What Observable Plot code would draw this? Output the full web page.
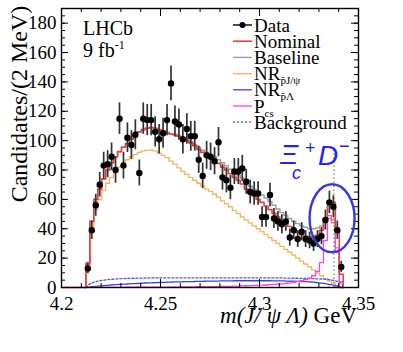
<!DOCTYPE html>
<html><head><meta charset="utf-8">
<script src="https://cdn.jsdelivr.net/npm/d3@7"></script>
<script src="https://cdn.jsdelivr.net/npm/@observablehq/plot@0.6"></script>
<style>
body{margin:0;background:#fff;}
svg{display:block;overflow:hidden}
svg text:not(.sans){font-family:"Liberation Serif","Times New Roman",serif;}
svg text.sans{font-family:"Liberation Sans",Arial,sans-serif;}
</style>
</head><body><div id="chart"></div>
<script>
// 2 MeV bins of m(J/psi Lambda) starting at threshold
const binStart = 4.2123;
const binWidth = 0.002;
const dataCounts = [13, 39, 56, 70, 83, 84, 89, 80, 115, 83,
  102, 97, 104, 78, 115, 114, 114, 106, 101, 105,
  114, 139, 113, 111, 101, 108, 103, 103, 87, 76,
  90, 89, 86, 99, 75, 73, 68, 79, 79, 81,
  72, 65, 64, 64, 48, 48, 63, 47, 45, 43,
  45, 34, 39, 33, 38, 33, 32, 30, 33, 35,
  46, 58, 55, 39, 14];
const nominal = [16, 45, 60, 67, 74, 80, 85, 89, 92.5, 95.5,
  98, 101, 104, 106, 107.5, 108.5, 109, 108.5, 107.5, 106.5,
  105.5, 104.5, 104, 103, 102, 100, 98.5, 96.5, 94, 92,
  90, 88.5, 86.5, 84.5, 82, 80, 77.5, 75, 73, 70.5,
  67, 65, 62.5, 60, 58, 55.5, 53, 50.5, 48, 45.5,
  43.5, 41.5, 39.5, 37.5, 36, 35, 34.5, 34.5, 35.5, 39,
  47, 58, 58, 40, 9];
const baseline = [17, 45, 60, 67, 74, 80, 85, 89, 92.5, 95.5,
  98, 101, 104, 106, 107.5, 108.5, 109, 108.5, 107.5, 106.5,
  105.5, 104.5, 104, 103, 102, 100.5, 99.5, 97.5, 95.5, 93.5,
  92, 90.5, 89, 87, 85, 83, 80.5, 78.5, 76.5, 74.5,
  71, 69, 67, 65, 63, 61, 58.5, 56, 53.5, 51,
  49, 47, 45, 43.5, 42, 41, 40, 40, 40.5, 42,
  45, 47, 44, 24, 4];
const nrPJpsi = [15, 40, 53, 60, 66, 71, 75, 79, 82, 85,
  87, 89, 90.5, 92, 93, 93.5, 93.5, 93, 91.5, 90,
  88.5, 86, 84, 81.5, 79, 77, 75, 73, 71, 69,
  67, 65.5, 63.5, 61.5, 59, 57, 55, 52.5, 50.5, 48,
  46, 44, 42, 40, 38, 36, 34, 32, 30, 28,
  26, 24, 22, 20, 18, 16, 14, 12, 10, 8,
  6, 4.5, 3, 1, 0];
const nrPLambda = [0.2, 0.5, 0.8, 1.0, 1.3, 1.5, 1.7, 1.9, 2.1, 2.3,
  2.4, 2.6, 2.7, 2.8, 3.0, 3.1, 3.2, 3.3, 3.4, 3.5,
  3.6, 3.7, 3.8, 3.8, 3.9, 4.0, 4.0, 4.1, 4.2, 4.2,
  4.3, 4.3, 4.4, 4.4, 4.5, 4.5, 4.5, 4.6, 4.6, 4.6,
  4.6, 4.6, 4.6, 4.6, 4.6, 4.6, 4.6, 4.5, 4.5, 4.5,
  4.4, 4.4, 4.3, 4.2, 4.1, 4.0, 3.8, 3.6, 3.3, 3.0,
  2.6, 2.1, 1.6, 1.0, 0.3];
const pcs = [0.1, 0.1, 0.1, 0.1, 0.1, 0.1, 0.1, 0.1, 0.1, 0.1,
  0.2, 0.2, 0.2, 0.2, 0.2, 0.2, 0.2, 0.2, 0.2, 0.2,
  0.3, 0.3, 0.3, 0.3, 0.4, 0.4, 0.4, 0.4, 0.5, 0.5,
  0.5, 0.6, 0.6, 0.7, 0.7, 0.8, 0.8, 0.9, 1.0, 1.1,
  1.2, 1.3, 1.4, 1.5, 1.6, 1.7, 1.9, 2.1, 2.3, 2.5,
  2.8, 3.1, 3.5, 4.0, 4.6, 5.3, 6.3, 8, 11, 17,
  32, 49, 46, 27, 0];
const background = [1.5, 3.0, 4.0, 4.6, 5.0, 5.3, 5.6, 5.8, 6.0, 6.1,
  6.2, 6.3, 6.3, 6.4, 6.4, 6.5, 6.5, 6.5, 6.5, 6.5,
  6.6, 6.6, 6.6, 6.6, 6.6, 6.6, 6.6, 6.6, 6.6, 6.6,
  6.6, 6.6, 6.6, 6.6, 6.6, 6.6, 6.6, 6.6, 6.6, 6.6,
  6.6, 6.6, 6.6, 6.6, 6.6, 6.5, 6.5, 6.5, 6.5, 6.5,
  6.4, 6.4, 6.3, 6.3, 6.2, 6.2, 6.1, 6.0, 5.9, 5.8,
  5.6, 5.3, 4.9, 4.2, 3.0];
const xTicks = [4.2, 4.25, 4.3, 4.35];
const xTickLabels = ["4.2", "4.25", "4.3", "4.35"];
const yTicks = [0, 20, 40, 60, 80, 100, 120, 140, 160, 180];
const xiDThreshold = 4.3376;   // Xi_c+ D- threshold
const xiDLineTop = 94;
const ellipseCenter = {x: 4.3369, y: 46.8};

const C = {red: "#e8403f", grey: "#9c9c9c", orange: "#f2b25a", blue: "#4040d8",
  magenta: "#ff3fe0", bg: "#4a5ad8", annot: "#2424ee"};

const W = 403, H = 352, mL = 61, mR = 45, mT = 8, mB = 65;
const iw = W - mL - mR, ih = H - mT - mB;
const serif = "Liberation Serif, Times New Roman, serif";
const sans = "Liberation Sans, Arial, sans-serif";

const nBins = dataCounts.length;
const center = i => binStart + (i + 0.5) * binWidth;
const binEnd = binStart + nBins * binWidth;

function stepData(vals, fromAxisStart) {
  const pts = [];
  if (fromAxisStart) pts.push({x: 4.2, y: 0});
  pts.push({x: binStart, y: 0});
  vals.forEach((v, i) => pts.push({x: binStart + i * binWidth, y: v}));
  pts.push({x: binEnd, y: vals[vals.length - 1]});
  pts.push({x: binEnd, y: 0});
  return pts;
}
function smoothData(vals) {
  const pts = [{x: binStart, y: 0}];
  vals.forEach((v, i) => pts.push({x: center(i), y: v}));
  pts.push({x: binEnd, y: 0});
  return pts;
}
const points = dataCounts.map((v, i) => ({x: center(i), y: v}));

const yMinor = d3.range(0, 191, 5);
const xMinor = d3.range(0, 16).map(k => +(4.2 + k * 0.01).toFixed(2));

const plot = Plot.plot({
  width: W, height: H,
  marginLeft: mL, marginRight: mR, marginTop: mT, marginBottom: mB,
  x: {domain: [4.2, 4.35], axis: null},
  y: {domain: [0, 190], axis: null},
  style: {fontFamily: serif, background: "white", color: "black"},
  marks: [
    Plot.line(stepData(nrPJpsi), {x: "x", y: "y", curve: "step-after", stroke: C.orange, strokeWidth: 1.3}),
    Plot.line(stepData(baseline), {x: "x", y: "y", curve: "step-after", stroke: C.grey, strokeWidth: 1.4}),
    Plot.line(smoothData(background), {x: "x", y: "y", curve: "monotone-x", stroke: C.bg, strokeWidth: 1.3, strokeDasharray: "2,2"}),
    Plot.line(smoothData(nrPLambda), {x: "x", y: "y", curve: "monotone-x", stroke: C.blue, strokeWidth: 1.3}),
    Plot.line(stepData(pcs), {x: "x", y: "y", curve: "step-after", stroke: C.magenta, strokeWidth: 1.3}),
    Plot.line(stepData(nominal, true), {x: "x", y: "y", curve: "step-after", stroke: C.red, strokeWidth: 1.6}),
    Plot.ruleX([xiDThreshold], {x: d => d, y1: 0, y2: xiDLineTop, stroke: "#777", strokeWidth: 1.2, strokeDasharray: "1.5,2.5"}),
    Plot.ruleX(points, {x: "x", y1: d => d.y - Math.sqrt(d.y), y2: d => d.y + Math.sqrt(d.y), stroke: "#333", strokeWidth: 1.7}),
    Plot.dot(points, {x: "x", y: "y", r: 3.2, fill: "black", stroke: null}),
    // ticks (inward, on all four sides)
    Plot.tickY(yTicks, {y: d => d, insetRight: iw - 7, stroke: "black", strokeWidth: 1}),
    Plot.tickY(yMinor, {y: d => d, insetRight: iw - 4, stroke: "black", strokeWidth: 1}),
    Plot.tickY(yTicks, {y: d => d, insetLeft: iw - 7, stroke: "black", strokeWidth: 1}),
    Plot.tickY(yMinor, {y: d => d, insetLeft: iw - 4, stroke: "black", strokeWidth: 1}),
    Plot.tickX(xTicks, {x: d => d, insetTop: ih - 8, stroke: "black", strokeWidth: 1}),
    Plot.tickX(xMinor, {x: d => d, insetTop: ih - 4, stroke: "black", strokeWidth: 1}),
    Plot.tickX(xTicks, {x: d => d, insetBottom: ih - 8, stroke: "black", strokeWidth: 1}),
    Plot.tickX(xMinor, {x: d => d, insetBottom: ih - 4, stroke: "black", strokeWidth: 1}),
    Plot.axisY({ticks: yTicks, tickSize: 0, tickPadding: 5, fontSize: 19, fontFamily: serif, label: null}),
    Plot.axisX({ticks: xTicks, tickFormat: (d, i) => xTickLabels[i], tickSize: 0, tickPadding: 9, fontSize: 19, fontFamily: serif, label: null}),
    Plot.frame({stroke: "black", strokeWidth: 1.4})
  ]
});
document.getElementById("chart").append(plot);

const svg = d3.select(plot);
const sx = plot.scale("x"), sy = plot.scale("y");

function txt(parent, x, y, size, family) {
  return parent.append("text").attr("x", x).attr("y", y).attr("text-anchor", "start")
    .attr("font-family", family).attr("font-size", size).attr("fill", "black");
}

// y-axis title
svg.append("text").attr("transform", "translate(27,104) rotate(-90)")
  .attr("text-anchor", "middle").attr("font-family", serif).attr("font-size", 24)
  .attr("fill", "black").text("Candidates/(2 MeV)");

// x-axis title
const xt = svg.append("text").attr("x", 357).attr("y", 323).attr("text-anchor", "end")
  .attr("font-family", serif).attr("font-size", 23).attr("fill", "black");
xt.append("tspan").attr("font-style", "italic").text("m(J/ ψ Λ)");
xt.append("tspan").text(" GeV");

// LHCb label
txt(svg, 83, 35, 20, serif).text("LHCb");
const lum = txt(svg, 83, 57, 20, serif);
lum.append("tspan").text("9 fb");
lum.append("tspan").attr("font-size", 12).attr("dy", -8).text("-1");

// legend
const legendItems = [
  {label: "Data", kind: "data"},
  {label: "Nominal", color: C.red, w: 1.6},
  {label: "Baseline", color: C.grey, w: 1.4},
  {label: "NR", sub: "p\u0304J/ψ", color: C.orange, w: 1.3},
  {label: "NR", sub: "p\u0304Λ", color: C.blue, w: 1.3},
  {label: "P", sub: "cs", color: C.magenta, w: 1.3},
  {label: "Background", color: C.bg, w: 1.3, dash: "2,2"}
];
const lg = svg.append("g");
legendItems.forEach((it, k) => {
  const cy = 25 + k * 16.2;
  if (it.kind === "data") {
    lg.append("line").attr("x1", 233).attr("x2", 252).attr("y1", cy).attr("y2", cy).attr("stroke", "black").attr("stroke-width", 1.4);
    lg.append("circle").attr("cx", 242.5).attr("cy", cy).attr("r", 3).attr("fill", "black");
  } else {
    lg.append("line").attr("x1", 233).attr("x2", 252).attr("y1", cy).attr("y2", cy)
      .attr("stroke", it.color).attr("stroke-width", it.w).attr("stroke-dasharray", it.dash || null);
  }
  const t = txt(lg, 254, cy + 6.5, 19, serif);
  t.append("tspan").text(it.label);
  if (it.sub) t.append("tspan").attr("font-size", 11).attr("dy", 4).text(it.sub);
});

// Xi_c+ D- annotation
const an = svg.append("g").attr("fill", C.annot).attr("font-family", sans).attr("font-style", "italic").attr("text-anchor", "start");
an.append("text").attr("class", "sans").attr("x", 280).attr("y", 164).attr("font-size", 28).text("Ξ");
an.append("text").attr("class", "sans").attr("x", 292).attr("y", 179).attr("font-size", 18).text("c");
an.append("text").attr("class", "sans").attr("x", 305).attr("y", 154).attr("font-size", 18).attr("font-style", "normal").text("+");
an.append("text").attr("class", "sans").attr("x", 318).attr("y", 165).attr("font-size", 28).text("D");
an.append("text").attr("class", "sans").attr("x", 339).attr("y", 152).attr("font-size", 18).attr("font-style", "normal").text("\u2212");

svg.append("ellipse").attr("cx", sx.apply(ellipseCenter.x)).attr("cy", sy.apply(ellipseCenter.y))
  .attr("rx", 22.5).attr("ry", 34).attr("fill", "none").attr("stroke", "#3a3ad8").attr("stroke-width", 2.4);
</script>
</body></html>
